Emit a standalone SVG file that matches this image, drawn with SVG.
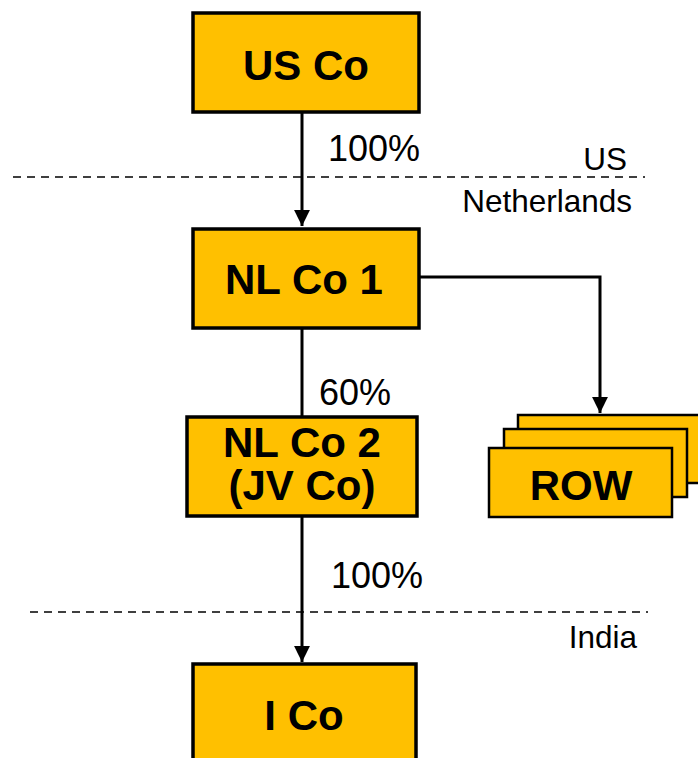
<svg xmlns="http://www.w3.org/2000/svg" width="698" height="758" viewBox="0 0 698 758">
<defs>
<style>
.box{fill:#FFC000;stroke:#000;stroke-width:3.5}
.row{fill:#FFC000;stroke:#000;stroke-width:2.5}
.lbl{font-family:"Liberation Sans",Arial,sans-serif;font-weight:bold;font-size:42px;fill:#000;text-anchor:middle}
.pct{font-family:"Liberation Sans",Arial,sans-serif;font-size:36px;fill:#000}
.loc{font-family:"Liberation Sans",Arial,sans-serif;font-size:31.5px;fill:#000;text-anchor:end}
.line{fill:none;stroke:#000;stroke-width:3}
.dash{fill:none;stroke:#000;stroke-width:1.5;stroke-dasharray:8 6}
</style>
<marker id="arr" viewBox="0 0 10 10" refX="10" refY="5" markerWidth="5.3" markerHeight="5.3" markerUnits="strokeWidth" orient="auto">
<path d="M0,0 L10,5 L0,10 z" fill="#000"/>
</marker>
</defs>
<rect width="698" height="758" fill="#fff"/>
<g id="dividers">
<line class="dash" x1="13" y1="177" x2="645" y2="177"/>
<line class="dash" x1="30" y1="612" x2="648" y2="612"/>
<text class="loc" x="627" y="170">US</text>
<text class="loc" x="632" y="212">Netherlands</text>
<text class="loc" x="637" y="648">India</text>
</g>
<g id="connectors">
<line class="line" x1="302" y1="112" x2="302" y2="226" marker-end="url(#arr)"/>
<line class="line" x1="302" y1="328" x2="302" y2="417"/>
<polyline class="line" points="419,277 600,277 600,413" marker-end="url(#arr)"/>
<line class="line" x1="302" y1="516" x2="302" y2="662" marker-end="url(#arr)"/>
<text class="pct" x="328" y="161">100%</text>
<text class="pct" x="319" y="405">60%</text>
<text class="pct" x="331" y="588">100%</text>
</g>
<g id="usco">
<rect class="box" x="193" y="13" width="226" height="99"/>
<text class="lbl" x="306" y="80">US Co</text>
</g>
<g id="nlco1">
<rect class="box" x="193" y="229" width="226" height="99"/>
<text class="lbl" x="304" y="294">NL Co 1</text>
</g>
<g id="nlco2">
<rect class="box" x="187" y="417" width="230" height="99"/>
<text class="lbl" x="302" y="457">NL Co 2</text>
<text class="lbl" x="302" y="500">(JV Co)</text>
</g>
<g id="row">
<rect class="row" x="518" y="415" width="183" height="68"/>
<rect class="row" x="504" y="429" width="183" height="68"/>
<rect class="row" x="489" y="448" width="183" height="69"/>
<text class="lbl" x="581" y="500">ROW</text>
</g>
<g id="ico">
<rect class="box" x="193" y="664" width="223" height="110"/>
<text class="lbl" x="304" y="730">I Co</text>
</g>
</svg>
